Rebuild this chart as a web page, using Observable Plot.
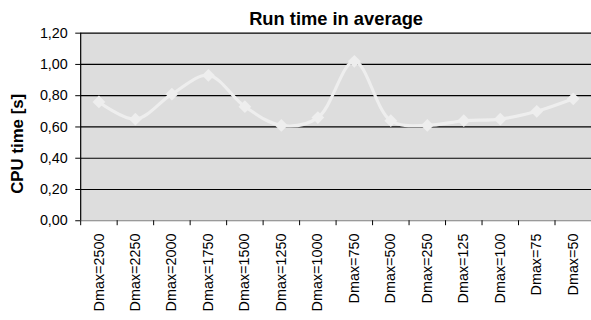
<!DOCTYPE html>
<html><head><meta charset="utf-8">
<script src="https://cdn.jsdelivr.net/npm/d3@7"></script>
<script src="https://cdn.jsdelivr.net/npm/@observablehq/plot@0.6"></script>
<style>
body{margin:0;overflow:hidden;background:#fff}
#chart{position:relative;width:591px;height:320px;overflow:hidden}
</style>
</head><body><div id="chart"></div>
<script>
const categories = ["Dmax=2500","Dmax=2250","Dmax=2000","Dmax=1750","Dmax=1500","Dmax=1250","Dmax=1000","Dmax=750","Dmax=500","Dmax=250","Dmax=125","Dmax=100","Dmax=75","Dmax=50"];
const cpuTime = [0.76,0.65,0.81,0.93,0.73,0.61,0.66,1.02,0.64,0.61,0.64,0.65,0.70,0.78];
const yTicks = [0,0.2,0.4,0.6,0.8,1.0,1.2];
const titleText = "Run time in average";
const yLabel = "CPU time [s]";

const data = categories.map((c,i)=>({cat:c, pos:i+0.5, value:cpuTime[i]}));
const font = "Arial, 'Liberation Sans', sans-serif";
const plot = Plot.plot({
  width: 597, height: 320,
  marginLeft: 81, marginRight: 0, marginTop: 33, marginBottom: 97.5,
  style: {fontFamily: font, fontSize: "14.5px", background: "white", color: "black", overflow: "visible"},
  x: {domain: [0, categories.length], axis: null},
  y: {domain: [0, 1.2], axis: null},
  marks: [
    Plot.frame({fill: "#dddddd", stroke: null}),
    Plot.ruleY(yTicks.filter(v => v > 0), {stroke: "black", strokeWidth: 1.2}),
    Plot.ruleY([0], {stroke: "#808080", strokeWidth: 1.2}),
    Plot.ruleX([0], {stroke: "black", strokeWidth: 1.2}),
    Plot.axisY({ticks: yTicks, tickFormat: d => d.toFixed(2).replace(".", ","), tickSize: 5, tickPadding: 8, fontSize: 14.5, label: null, stroke: "black"}),
    Plot.axisX({ticks: d3.range(0, categories.length + 1), tickFormat: () => "", tickSize: 5, label: null, stroke: "black"}),
    Plot.axisX({ticks: data.map(d => d.pos), tickFormat: d => categories[Math.floor(d)], tickSize: 0, tickRotate: -90, tickPadding: 13, fontSize: 14.5, label: null}),
    Plot.line(data, {x: "pos", y: "value", curve: "catmull-rom", stroke: "#eeeeee", strokeWidth: 3.2}),
    Plot.dot(data, {x: "pos", y: "value", symbol: "diamond2", r: 5.8, fill: "#eeeeee", stroke: null}),
    Plot.text([titleText], {frameAnchor: "top", lineAnchor: "bottom", dy: -8, text: d => d, fontWeight: "bold", fontSize: 18.5}),
    Plot.text([yLabel], {frameAnchor: "left", textAnchor: "middle", dx: -63.5, dy: 17, rotate: -90, text: d => d, fontWeight: "bold", fontSize: 17})
  ]
});
document.getElementById("chart").appendChild(plot);
</script>
</body></html>
